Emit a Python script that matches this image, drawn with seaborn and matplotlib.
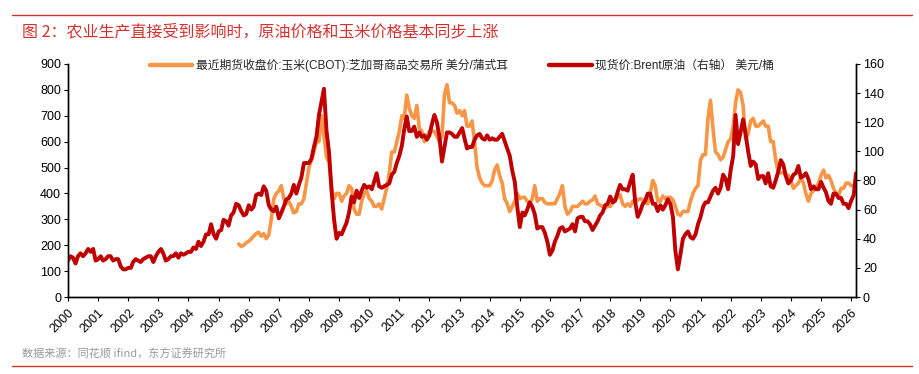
import pandas as pd
import matplotlib.pyplot as plt
import matplotlib.dates as mdates
from matplotlib.lines import Line2D
import seaborn as sns

# 数据 (月度, 从图中读取)
brent_start = '2000-01-01'
brent = [
    25, 28, 27, 23, 28, 30, 28, 30, 33, 31, 33, 25,   # 2000
    26, 28, 25, 26, 28, 28, 25, 26, 26, 21, 19, 19,   # 2001
    20, 20, 24, 26, 25, 24, 26, 27, 28, 28, 24, 28,   # 2002
    31, 33, 30, 25, 26, 28, 28, 30, 27, 30, 29, 30,   # 2003
    31, 31, 34, 33, 38, 35, 38, 43, 43, 50, 43, 40,   # 2004
    45, 46, 53, 52, 49, 56, 58, 64, 63, 59, 56, 57,   # 2005
    63, 60, 62, 70, 71, 70, 76, 73, 63, 60, 59, 62,   # 2006
    54, 58, 62, 67, 68, 71, 77, 71, 77, 82, 92, 92,   # 2007
    92, 95, 103, 110, 125, 134, 143, 114, 99, 73, 53, 40,  # 2008
    44, 43, 47, 51, 58, 69, 65, 73, 68, 73, 77, 75,   # 2009
    76, 74, 79, 85, 76, 75, 76, 77, 78, 84, 86, 92,   # 2010
    97, 104, 115, 124, 114, 114, 117, 110, 113, 110, 111, 108,  # 2011
    111, 119, 125, 120, 110, 93, 103, 113, 113, 112, 110, 110,  # 2012
    113, 116, 109, 102, 103, 103, 108, 111, 112, 109, 108, 111,  # 2013
    108, 109, 108, 108, 110, 112, 107, 102, 97, 87, 79, 62,  # 2014
    48, 58, 56, 60, 65, 62, 57, 47, 48, 48, 44, 38,   # 2015
    29, 32, 38, 42, 47, 48, 45, 46, 47, 50, 45, 54,   # 2016
    55, 55, 52, 52, 50, 46, 49, 52, 56, 58, 63, 64,   # 2017
    69, 65, 66, 72, 77, 74, 74, 73, 79, 84, 65, 55,   # 2018
    59, 64, 66, 71, 71, 64, 64, 59, 63, 60, 63, 67,   # 2019
    64, 55, 32, 19, 29, 40, 43, 45, 41, 40, 43, 50,   # 2020
    55, 62, 65, 65, 69, 73, 75, 71, 75, 84, 81, 74,   # 2021
    87, 97, 125, 105, 113, 122, 112, 100, 90, 93, 91, 81,  # 2022
    83, 83, 78, 85, 76, 75, 80, 86, 94, 91, 83, 78,   # 2023
    80, 84, 85, 90, 82, 83, 85, 81, 74, 76, 74, 74,   # 2024
    79, 75, 72, 66, 64, 71, 71, 68, 68, 64, 64, 61,   # 2025
    66, 70, 85,                                       # 2026
]

corn_start = '2005-09-01'
corn = [
    205, 195, 200, 210,                                         # 2005
    215, 225, 235, 245, 250, 235, 245, 225, 240, 300, 380, 400,  # 2006
    410, 430, 380, 360, 370, 350, 325, 330, 360, 360, 380, 440,  # 2007
    500, 530, 560, 600, 600, 700, 620, 540, 520, 420, 380, 400,  # 2008
    400, 370, 390, 400, 430, 420, 340, 320, 320, 370, 400, 410,  # 2009
    380, 370, 350, 350, 360, 340, 380, 420, 480, 560, 560, 600,  # 2010
    640, 700, 690, 780, 730, 700, 690, 740, 650, 640, 600, 620,  # 2011
    640, 640, 640, 620, 600, 620, 780, 820, 750, 750, 740, 710,  # 2012
    720, 700, 720, 660, 660, 680, 600, 500, 460, 440, 430, 430,  # 2013
    430, 450, 490, 510, 470, 440, 380, 360, 330, 350, 370, 400,  # 2014
    380, 385, 385, 370, 360, 380, 430, 370, 380, 380, 365, 360,  # 2015
    360, 360, 360, 380, 400, 430, 350, 320, 330, 350, 350, 350,  # 2016
    360, 370, 360, 360, 370, 375, 390, 360, 355, 350, 345, 350,  # 2017
    350, 365, 380, 385, 395, 360, 350, 360, 350, 370, 365, 375,  # 2018
    380, 375, 365, 360, 400, 450, 430, 370, 370, 390, 380, 385,  # 2019
    385, 375, 350, 320, 315, 330, 330, 330, 370, 400, 420, 430,  # 2020
    530, 550, 550, 690, 760, 650, 560, 550, 530, 540, 570, 600,  # 2021
    610, 660, 750, 800, 790, 740, 610, 630, 680, 690, 660, 660,  # 2022
    670, 680, 660, 660, 600, 600, 530, 480, 480, 480, 470, 470,  # 2023
    450, 420, 430, 440, 460, 440, 400, 370, 400, 410, 425, 440,  # 2024
    470, 490, 460, 470, 450, 420, 400, 390, 420, 420, 440, 440,  # 2025
    430, 430, 440,                                              # 2026
]

corn_label = '最近期货收盘价:玉米(CBOT):芝加哥商品交易所 美分/蒲式耳'
brent_label = '现货价:Brent原油（右轴） 美元/桶'
title = '图 2：农业生产直接受到影响时，原油价格和玉米价格基本同步上涨'
source = '数据来源：同花顺 ifind，东方证券研究所'

brent_dates = pd.date_range(brent_start, periods=len(brent), freq='MS')
corn_dates = pd.date_range(corn_start, periods=len(corn), freq='MS')

sns.set_style('ticks')
plt.rcParams['font.family'] = ['Liberation Sans', 'Noto Sans CJK SC']
plt.rcParams['axes.unicode_minus'] = False

RED = '#C00000'
ORANGE = '#F79646'
TITLE_RED = '#D5322F'

fig = plt.figure(figsize=(9.19, 3.74), dpi=100)
W, H = 919, 374
ax = fig.add_axes([68 / W, 1 - 297 / H, (856 - 68) / W, (297 - 64) / H])
ax2 = ax.twinx()

sns.lineplot(x=corn_dates, y=corn, ax=ax, color=ORANGE, linewidth=2.6, legend=False)
sns.lineplot(x=brent_dates, y=brent, ax=ax2, color=RED, linewidth=2.8, legend=False)

ax.set_xlim(pd.Timestamp('2000-01-01'), pd.Timestamp('2026-03-01'))
ax.set_ylim(0, 900)
ax2.set_ylim(0, 160)
ax.set_yticks(range(0, 901, 100))
ax2.set_yticks(range(0, 161, 20))
ax.set_xlabel('')
ax.set_ylabel('')
ax2.set_ylabel('')

ax.xaxis.set_major_locator(mdates.YearLocator())
ax.xaxis.set_major_formatter(mdates.DateFormatter('%Y'))

for a in (ax, ax2):
    a.spines['top'].set_visible(False)
    for s in a.spines.values():
        s.set_linewidth(1.0)
        s.set_color('black')
    a.tick_params(axis='both', labelsize=9, length=3, width=0.8, colors='black', direction='out', pad=2)
ax.tick_params(axis='x', pad=4, labelsize=9)

for lab in ax.get_xticklabels():
    lab.set_rotation(45)
    lab.set_ha('right')
    lab.set_va('top')
    lab.set_rotation_mode('anchor')

handles = [Line2D([], [], color=ORANGE, lw=3.2), Line2D([], [], color=RED, lw=3.2)]
ax2.legend(handles, [corn_label, brent_label], loc='center', bbox_to_anchor=(0.5, 0.995),
           ncol=2, frameon=False, fontsize=8.5, handlelength=3.6, handletextpad=0.3,
           columnspacing=3.5, borderaxespad=0)

fig.add_artist(Line2D([12 / W, 912 / W], [1 - 15 / H] * 2, color=TITLE_RED, lw=1.0))
fig.add_artist(Line2D([12 / W, 912 / W], [1 - 366 / H] * 2, color=TITLE_RED, lw=1.0))
fig.text(22 / W, 1 - 32 / H, title, color=TITLE_RED, fontsize=11.5, va='center', ha='left',
         family=['Noto Sans CJK SC', 'DejaVu Sans'])
fig.text(22 / W, 1 - 354 / H, source, color='#999999', fontsize=8, va='center', ha='left',
         family=['Noto Sans CJK SC', 'DejaVu Sans'])

plt.savefig('out.png', dpi=100)
